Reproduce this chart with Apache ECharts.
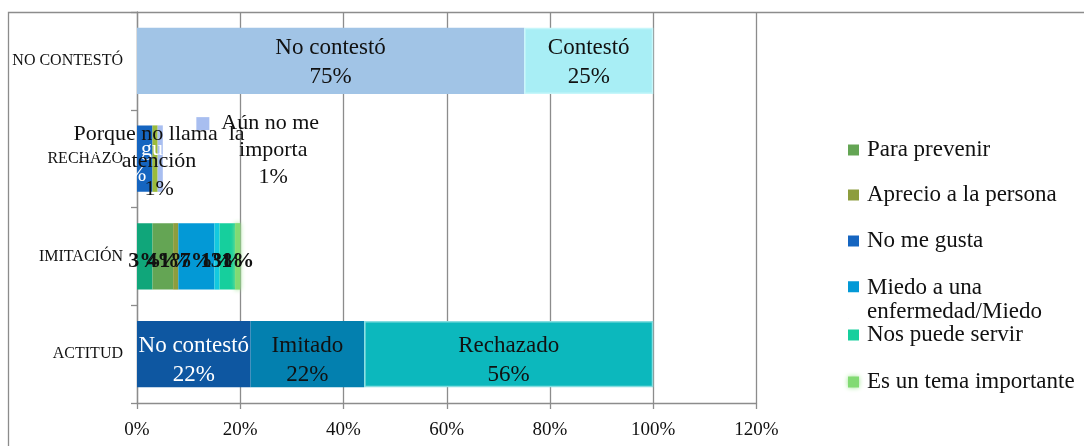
<!DOCTYPE html>
<html>
<head>
<meta charset="utf-8">
<title>Actitud</title>
<script src="https://cdn.jsdelivr.net/npm/echarts@6/dist/echarts.min.js"></script>
<style>
  html, body { margin: 0; padding: 0; background: #fff; }
  #chart { width: 1084px; height: 446px; }
</style>
</head>
<body>
<div id="chart"></div>
<script>
// Filas del gráfico (de abajo hacia arriba)
const rows = ['ACTITUD', 'IMITACIÓN', 'RECHAZO', 'NO CONTESTÓ'];
const xTicks = [0, 20, 40, 60, 80, 100, 120];

// ACTITUD
const actitudNames = ['No contestó', 'Imitado', 'Rechazado'];
const actitudValues = [22, 22, 56];

// IMITACIÓN
const imitacionNames = ['Otro motivo', 'Para prevenir', 'Aprecio a la persona',
  'Miedo a una enfermedad/Miedo', 'Otra respuesta', 'Nos puede servir', 'Es un tema importante'];
const imitacionValues = [3, 4, 1, 7, 1, 3, 1];

// RECHAZO
const rechazoNames = ['No me gusta', 'Porque no llama la atención', 'Aún no me importa'];
const rechazoValues = [3, 1, 1];

// NO CONTESTÓ
const sinRespuestaNames = ['No contestó', 'Contestó'];
const sinRespuestaValues = [75, 25];

// Entradas visibles de la leyenda
const legendNames = ['Para prevenir', 'Aprecio a la persona', 'No me gusta',
  'Miedo a una enfermedad/Miedo', 'Nos puede servir', 'Es un tema importante'];

const SERIF = "'Liberation Serif', 'Times New Roman', serif";
const GRAY = '#8c8c8c';

const colors = {
  'ACTITUD': ['#0E57A1', '#0380AF', '#0CB8BD'],
  'IMITACIÓN': ['#10A67A', '#64A554', '#8D9D3E', '#0399D6', '#13C9DF', '#16CF9D', '#82DA73'],
  'RECHAZO': ['#1565C0', '#9BBB3B', '#A8BEF0'],
  'NO CONTESTÓ': ['#A1C4E6', '#A8EEF5']
};

const groups = [
  { row: 'ACTITUD', names: actitudNames, values: actitudValues },
  { row: 'IMITACIÓN', names: imitacionNames, values: imitacionValues },
  { row: 'RECHAZO', names: rechazoNames, values: rechazoValues },
  { row: 'NO CONTESTÓ', names: sinRespuestaNames, values: sinRespuestaValues }
];

function labelFor(row, i) {
  const base = { show: true, position: 'inside', fontFamily: SERIF, fontSize: 23,
    lineHeight: 29, color: '#111' };
  if (row === 'ACTITUD') {
    return Object.assign(base, {
      color: i === 0 ? '#fff' : '#111',
      offset: [0, 6],
      formatter: p => p.seriesName + '\n' + p.value + '%'
    });
  }
  if (row === 'NO CONTESTÓ') {
    return Object.assign(base, { offset: [0, 2], formatter: p => p.seriesName + '\n' + p.value + '%' });
  }
  if (row === 'IMITACIÓN') {
    return Object.assign(base, { fontWeight: 'bold', fontSize: 22, offset: [0, 5], formatter: p => p.value + '%' });
  }
  // RECHAZO
  if (i === 0) {
    return Object.assign(base, { color: '#fff', fontSize: 22, lineHeight: 26, offset: [-13, 4],
      formatter: p => p.seriesName + '\n' + p.value + '%' });
  }
  if (i === 1) {
    return Object.assign(base, { fontSize: 22, lineHeight: 27.5, offset: [4, 3],
      formatter: p => 'Porque no llama  la\natención\n' + p.value + '%' });
  }
  return Object.assign(base, {
    fontSize: 22, lineHeight: 27, offset: [113, -8],
    formatter: p => '{k|}{t|Aún no me}{p|}\nimporta\n' + p.value + '%',
    rich: {
      k: { width: 13, height: 13, backgroundColor: colors.RECHAZO[2], verticalAlign: 'middle' },
      t: { fontFamily: SERIF, fontSize: 22, color: '#111', padding: [0, 0, 0, 12] },
      p: { width: 31, height: 10 }
    }
  });
}

const series = [];
groups.forEach(g => {
  const r = rows.indexOf(g.row);
  g.names.forEach((name, i) => {
    const data = rows.map((_, k) => (k === r ? g.values[i] : '-'));
    const itemStyle = { color: colors[g.row][i] };
    if (g.row === 'ACTITUD' && i === 2) { itemStyle.borderColor = '#86DDE0'; itemStyle.borderWidth = 1.5; }
    if (g.row === 'NO CONTESTÓ' && i === 1) { itemStyle.borderColor = '#C6F6FA'; itemStyle.borderWidth = 1.5; }
    if (name === 'Es un tema importante') { itemStyle.shadowBlur = 5; itemStyle.shadowColor = '#9BE58E'; }
    series.push({
      name: name,
      type: 'bar',
      stack: 'total',
      barCategoryGap: '32%',
      data: data,
      itemStyle: itemStyle,
      label: labelFor(g.row, i),
      emphasis: { disabled: true }
    });
  });
});

// Color de cada entrada de la leyenda, tomado de su serie
function colorOf(name) {
  for (const g of groups) {
    const i = g.names.indexOf(name);
    if (i >= 0 && g.row !== 'ACTITUD' && g.row !== 'NO CONTESTÓ') return colors[g.row][i];
  }
  return '#000';
}

const legendCenters = [150, 195, 241, 288, 335, 382];
const legends = legendNames.map((name, i) => {
  const multi = name === 'Miedo a una enfermedad/Miedo';
  const lg = {
    data: [{ name: name, itemStyle: { color: colorOf(name) } }],
    orient: 'vertical',
    left: 848,
    top: legendCenters[i] - 12,
    padding: 0,
    itemWidth: 11,
    itemHeight: 11,
    icon: 'rect',
    textStyle: { fontFamily: SERIF, fontSize: 23, lineHeight: 24, color: '#111', padding: [0, 0, 0, 3] },
    selectedMode: false
  };
  if (multi) {
    lg.formatter = () => 'Miedo a una\nenfermedad/Miedo';
    lg.icon = 'path://M0 0H10V10H0ZM0 33.9H0.1V34H0Z';
    lg.itemHeight = 37.4;
  }
  if (name === 'Es un tema importante') {
    lg.itemStyle = { shadowBlur: 5, shadowColor: '#9BE58E' };
  }
  return lg;
});

const chart = echarts.init(document.getElementById('chart'), null, { renderer: 'canvas' });
chart.setOption({
  animation: false,
  backgroundColor: '#fff',
  grid: { left: 137, right: 327.5, top: 12, bottom: 43, containLabel: false },
  xAxis: {
    type: 'value',
    min: xTicks[0],
    max: xTicks[xTicks.length - 1],
    interval: xTicks[1] - xTicks[0],
    axisLine: { show: true, lineStyle: { color: GRAY, width: 1.3 } },
    axisTick: { show: true, length: 6, lineStyle: { color: GRAY, width: 1.3 } },
    splitLine: { show: true, lineStyle: { color: GRAY, width: 1.3 } },
    axisLabel: { formatter: '{value}%', color: '#111', fontFamily: SERIF, fontSize: 19, margin: 18 }
  },
  yAxis: {
    type: 'category',
    data: rows,
    axisLine: { show: true, lineStyle: { color: GRAY, width: 1.3 } },
    axisTick: { show: true, length: 6, lineStyle: { color: GRAY, width: 1.3 } },
    axisLabel: { color: '#111', fontFamily: SERIF, fontSize: 16, margin: 14 }
  },
  legend: legends,
  series: series,
  graphic: [{
    type: 'rect',
    silent: true,
    z: 100,
    shape: { x: 8.5, y: 12.5, width: 1200, height: 600 },
    style: { fill: null, stroke: GRAY, lineWidth: 1.3 }
  }]
});
</script>
</body>
</html>
